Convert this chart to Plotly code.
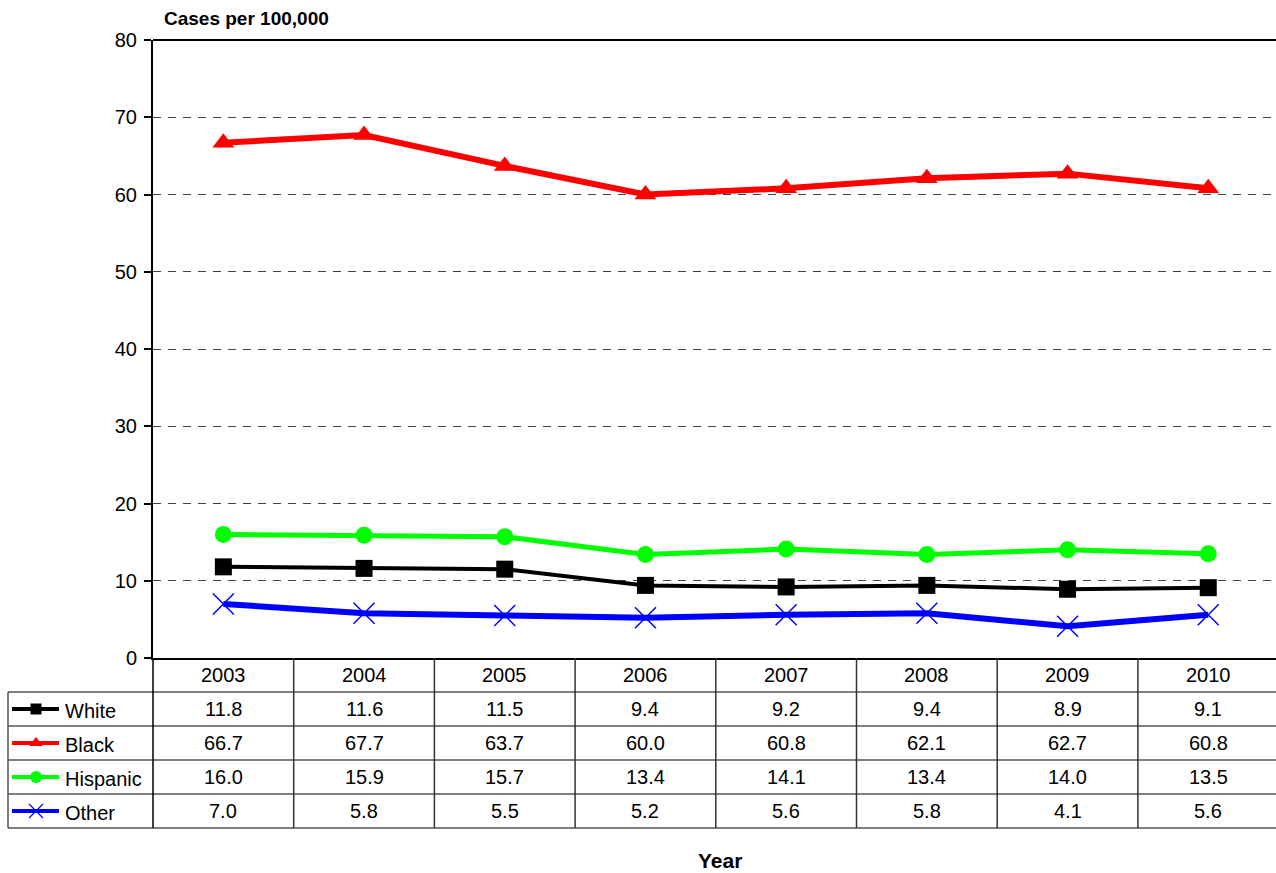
import plotly.graph_objects as go

# ---------------- data ----------------
years = [2003, 2004, 2005, 2006, 2007, 2008, 2009, 2010]
series_names = ["White", "Black", "Hispanic", "Other"]
white = [11.8, 11.6, 11.5, 9.4, 9.2, 9.4, 8.9, 9.1]
black = [66.7, 67.7, 63.7, 60.0, 60.8, 62.1, 62.7, 60.8]
hispanic = [16.0, 15.9, 15.7, 13.4, 14.1, 13.4, 14.0, 13.5]
other = [7.0, 5.8, 5.5, 5.2, 5.6, 5.8, 4.1, 5.6]
y_title = "Cases per 100,000"
x_title = "Year"

# ---------------- styles ----------------
W, H = 1276, 873
FONT = "Liberation Sans, Arial, sans-serif"
TXT = 20
styles = {
    "White": dict(color="#000000", width=4, symbol="square", size=17, lsize=11),
    "Black": dict(color="#FF0000", width=6, symbol="triangle-up", size=19, lsize=12),
    "Hispanic": dict(color="#00FF00", width=5, symbol="circle", size=17, lsize=12),
    "Other": dict(color="#0000FF", width=6, symbol="x-thin", size=21, lsize=14),
}
values = {"White": white, "Black": black, "Hispanic": hispanic, "Other": other}

# layout geometry (pixels)
PLOT_L, PLOT_T, PLOT_B = 153, 40, 658
COL_W = 140.7
TABLE_L = 8
ROW_H = 34
HEADER_B = PLOT_B + ROW_H


def xpx(xv):
    return PLOT_L + (xv - (years[0] - 0.5)) * COL_W


fig = go.Figure()

for name in series_names:
    s = styles[name]
    fig.add_trace(go.Scatter(
        x=years, y=values[name], mode="lines+markers", name=name,
        line=dict(color=s["color"], width=s["width"]),
        marker=dict(symbol=s["symbol"], size=s["size"], color=s["color"],
                    line=dict(color=s["color"], width=1.5 if name == "Other" else 0)),
        showlegend=False, cliponaxis=False,
    ))

shapes = []
annotations = []
LINE_C = "#555555"

# top border of plot area
shapes.append(dict(type="line", xref="x2", yref="y2", x0=PLOT_L, x1=W, y0=PLOT_T, y1=PLOT_T,
                   line=dict(color="black", width=2)))

# table horizontal lines
for r in range(len(series_names) + 1):
    yy = HEADER_B + r * ROW_H
    shapes.append(dict(type="line", xref="x2", yref="y2", x0=TABLE_L, x1=W, y0=yy, y1=yy,
                       line=dict(color=LINE_C, width=1.5)))
bottom = HEADER_B + len(series_names) * ROW_H
# table vertical lines
shapes.append(dict(type="line", xref="x2", yref="y2", x0=TABLE_L, x1=TABLE_L, y0=HEADER_B, y1=bottom,
                   line=dict(color=LINE_C, width=1.5)))
shapes.append(dict(type="line", xref="x2", yref="y2", x0=PLOT_L, x1=PLOT_L, y0=PLOT_B, y1=bottom,
                   line=dict(color="black", width=1.5)))
for yr in years[:-1]:
    xb = xpx(yr + 0.5)
    shapes.append(dict(type="line", xref="x2", yref="y2", x0=xb, x1=xb, y0=PLOT_B, y1=bottom,
                       line=dict(color="#333333", width=1.5)))

# header years
for yr in years:
    annotations.append(dict(xref="x2", yref="y2", x=xpx(yr), y=PLOT_B + ROW_H / 2, text=str(yr),
                            showarrow=False, xanchor="center", yanchor="middle",
                            font=dict(family=FONT, size=TXT, color="black")))

# rows
for r, name in enumerate(series_names):
    s = styles[name]
    yc = HEADER_B + r * ROW_H + ROW_H / 2
    for yr, v in zip(years, values[name]):
        annotations.append(dict(xref="x2", yref="y2", x=xpx(yr), y=yc, text=f"{v:.1f}",
                                showarrow=False, xanchor="center", yanchor="middle",
                                font=dict(family=FONT, size=TXT, color="black")))
    annotations.append(dict(xref="x2", yref="y2", x=63, y=yc + 1.5, text=name,
                            showarrow=False, xanchor="left", yanchor="middle",
                            font=dict(family=FONT, size=TXT, color="black")))
    # legend sample
    fig.add_trace(go.Scatter(
        x=[12, 36, 59], y=[yc, yc, yc], xaxis="x2", yaxis="y2",
        mode="lines", line=dict(color=s["color"], width=4), showlegend=False, hoverinfo="skip"))
    fig.add_trace(go.Scatter(
        x=[36], y=[yc], xaxis="x2", yaxis="y2", mode="markers",
        marker=dict(symbol=s["symbol"], size=s["lsize"], color=s["color"],
                    line=dict(color=s["color"], width=1.2 if name == "Other" else 0)),
        showlegend=False, hoverinfo="skip"))

# titles
annotations.append(dict(xref="x2", yref="y2", x=162, y=18, text=f"<b>{y_title}</b>",
                        showarrow=False, xanchor="left", yanchor="middle",
                        font=dict(family=FONT, size=19, color="black")))
annotations.append(dict(xref="x2", yref="y2", x=720, y=860, text=f"<b>{x_title}</b>",
                        showarrow=False, xanchor="center", yanchor="middle",
                        font=dict(family=FONT, size=21, color="black")))

fig.update_layout(
    width=W, height=H,
    margin=dict(l=0, r=0, t=0, b=0, autoexpand=False),
    paper_bgcolor="white", plot_bgcolor="rgba(0,0,0,0)",
    showlegend=False,
    xaxis=dict(domain=[PLOT_L / W, 1], range=[years[0] - 0.5, years[0] - 0.5 + (W - PLOT_L) / COL_W],
               showgrid=False, zeroline=False, showticklabels=False, ticks="",
               showline=True, linecolor="black", linewidth=2, fixedrange=True, automargin=False),
    yaxis=dict(domain=[1 - PLOT_B / H, 1 - PLOT_T / H], range=[0, 80], dtick=10, tick0=0,
               showgrid=True, gridcolor="#444444", gridwidth=1, griddash="8px,7px",
               zeroline=False, showline=True, linecolor="black", linewidth=2,
               ticks="outside", ticklen=7, tickcolor="black", tickwidth=1.5,
               ticklabelstandoff=3, automargin=False,
               tickfont=dict(family=FONT, size=TXT, color="black"), fixedrange=True),
    xaxis2=dict(domain=[0, 1], range=[0, W], visible=False, anchor="y2", fixedrange=True, automargin=False),
    yaxis2=dict(domain=[0, 1], range=[H, 0], visible=False, anchor="x2", fixedrange=True, automargin=False),
    shapes=shapes,
    annotations=annotations,
)

fig.write_html(
    "out.html",
    config={"displayModeBar": False},
    post_script="document.body.style.margin='0';document.body.style.overflow='hidden';"
                "document.documentElement.style.overflow='hidden';",
)
